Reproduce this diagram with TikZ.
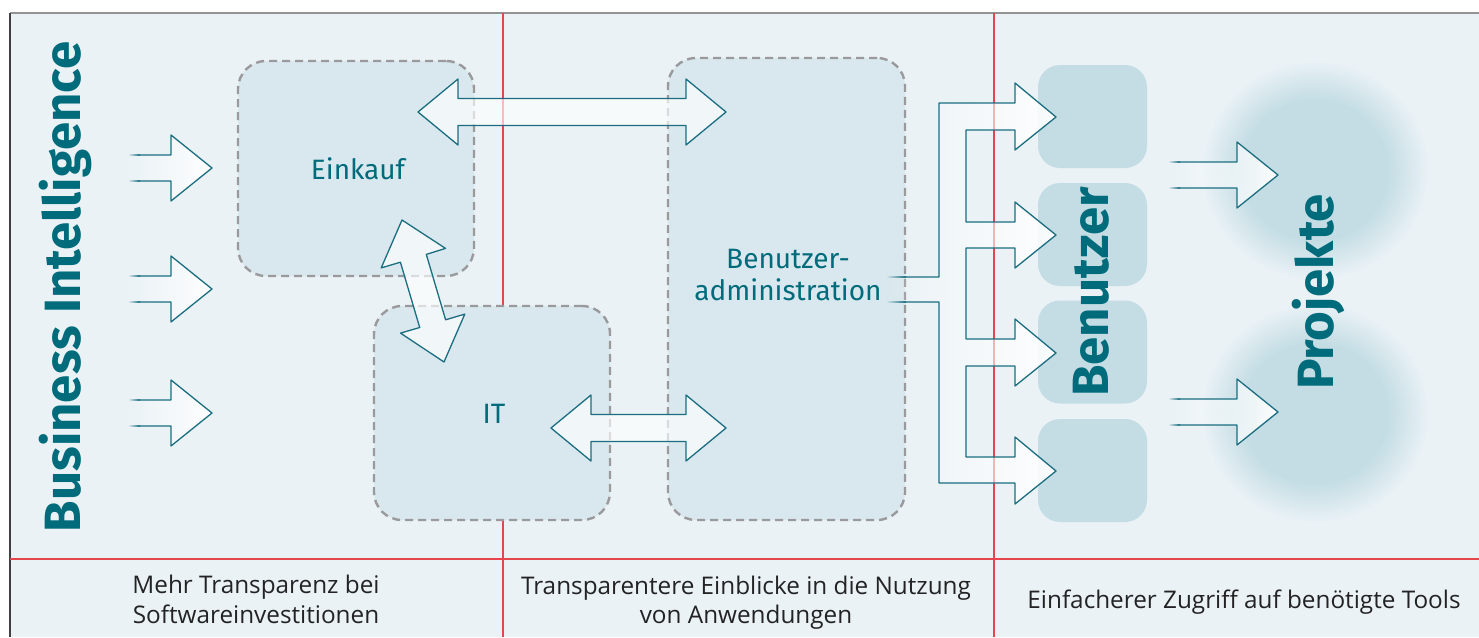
\documentclass[tikz,border=0pt]{standalone}
\usepackage{fontspec}
\setmainfont{Fira Sans}
\setsansfont{Fira Sans}
\newfontfamily\capfont{Open Sans}
\usetikzlibrary{fadings}
\definecolor{bgc}{HTML}{EAF2F6}
\definecolor{boxc}{HTML}{D9E8EE}
\definecolor{uboxc}{HTML}{C4DDE4}
\definecolor{glowc}{HTML}{C4DDE4}
\definecolor{tealc}{HTML}{006B7B}
\definecolor{arrc}{HTML}{1A6E80}
\definecolor{redc}{HTML}{E5454C}
\definecolor{capc}{HTML}{232325}
\definecolor{dashc}{HTML}{9A9A9C}
\pgfdeclareradialshading{glow}{\pgfpointorigin}{color(0bp)=(glowc); color(16bp)=(glowc); color(25bp)=(bgc); color(50bp)=(bgc)}
\tikzfading[name=fadein, left color=transparent!100, right color=transparent!5]
\tikzset{
  dbox/.style={draw=dashc, line width=2.4pt, dash pattern=on 8pt off 5pt, fill=boxc, rounded corners=28pt, inner sep=0pt, outer sep=0pt},
  ubox/.style={fill=uboxc, rounded corners=22pt, inner sep=0pt, outer sep=0pt},
  arrline/.style={draw=arrc, line width=1.3pt, line join=round},
  arrfill/.style={fill=white, path fading=fadein},
  dblfill/.style={fill=white, fill opacity=0.65},
  lbl/.style={text=tealc, font=\fontsize{28}{34}\selectfont, inner sep=0pt, anchor=base},
  ttl/.style={text=tealc, font=\fontsize{51}{54}\selectfont\bfseries, rotate=90, anchor=base, inner sep=0pt},
  capt/.style={text=capc, font=\capfont\fontsize{24.3}{29}\selectfont, anchor=base, inner sep=0pt},
  redl/.style={draw=redc, line width=1.2pt},
}
% single right arrow: #1 shaft start x, #2 tip x, #3 centre y, #4 colour under the faded start
\newcommand\rarrow[4]{%
  \fill[arrfill] ({#1},{#3-13}) -- ({#2-41},{#3-13}) -- ({#2-41},{#3-33}) -- ({#2},{#3}) -- ({#2-41},{#3+33}) -- ({#2-41},{#3+13}) -- ({#1},{#3+13}) -- cycle;
  \draw[arrline] ({#1+12},{#3-13}) -- ({#2-41},{#3-13}) -- ({#2-41},{#3-33}) -- ({#2},{#3}) -- ({#2-41},{#3+33}) -- ({#2-41},{#3+13}) -- ({#1+12},{#3+13});
  \shade[left color=#4, right color=arrc] ({#1},{#3-13.65}) rectangle ({#1+12},{#3-12.35});
  \shade[left color=#4, right color=arrc] ({#1},{#3+12.35}) rectangle ({#1+12},{#3+13.65});
}
% horizontal double arrow: #1 left tip x, #2 right tip x, #3 centre y
\newcommand\hdbl[3]{%
  \filldraw[arrline, dblfill] ({#1},{#3}) -- ({#1+40},{#3-33}) -- ({#1+40},{#3-13.5}) -- ({#2-40},{#3-13.5}) -- ({#2-40},{#3-33}) -- ({#2},{#3}) -- ({#2-40},{#3+33}) -- ({#2-40},{#3+13.5}) -- ({#1+40},{#3+13.5}) -- ({#1+40},{#3+33}) -- cycle;
}
\begin{document}
\begin{tikzpicture}[x=1pt,y=-1pt]
\useasboundingbox (0,0) rectangle (1479,637);
\fill[white] (0,0) rectangle (1479,637);
% panel
\fill[bgc] (10,13) rectangle (1479,637);
\draw[draw=gray!85!white, line width=1.5pt] (10,13) -- (1479,13);
\draw[draw=black!75, line width=1.5pt] (10,13) -- (10,637);
% red grid
\draw[redl] (10,559) -- (1479,559);
\draw[redl] (503,13) -- (503,637);
\draw[redl] (994,13) -- (994,637);
% glows
\shade[shading=glow] (1315,170) ellipse [x radius=114pt, y radius=110pt];
\shade[shading=glow] (1315,413) ellipse [x radius=114pt, y radius=110pt];
% dashed boxes
\node[dbox, minimum width=236pt, minimum height=215pt] (einkauf) at (356,168.5) {};
\node[dbox, minimum width=236pt, minimum height=214pt] (it) at (492,413) {};
\node[dbox, minimum width=237pt, minimum height=462pt] (admin) at (786.5,289) {};
% user boxes
\node[ubox, minimum width=109pt, minimum height=103pt] (u1) at (1092.5,116.5) {};
\node[ubox, minimum width=109pt, minimum height=103pt] (u2) at (1092.5,234.5) {};
\node[ubox, minimum width=109pt, minimum height=103pt] (u3) at (1092.5,352) {};
\node[ubox, minimum width=109pt, minimum height=103pt] (u4) at (1092.5,470.5) {};
% left input arrows
\rarrow{128}{212}{168}{bgc}
\rarrow{128}{212}{289}{bgc}
\rarrow{128}{212}{413}{bgc}
% double arrows
\hdbl{418}{726}{112}
\hdbl{551}{726}{428}
\filldraw[arrline, dblfill] (402,220) -- (381.2,267.9) -- (400.4,262.2) -- (419.7,327.5) -- (400.5,333.1) -- (444,362) -- (464.8,314.1) -- (445.6,319.8) -- (426.3,254.4) -- (445.5,248.4) -- cycle;
% branching arrow
\fill[arrfill] (886,277) -- (939,277) -- (939,103) -- (1015,103) -- (1015,83) -- (1056,117) -- (1015,150) -- (1015,130) -- (966,130) -- (966,222) -- (1015,222) -- (1015,202) -- (1056,235) -- (1015,268) -- (1015,248) -- (966,248) -- (966,339) -- (1015,339) -- (1015,319) -- (1056,353) -- (1015,386) -- (1015,366) -- (966,366) -- (966,457) -- (1015,457) -- (1015,437) -- (1056,471) -- (1015,504) -- (1015,483) -- (939,483) -- (939,302) -- (886,302) -- cycle;
\draw[arrline] (906,277) -- (939,277) -- (939,103) -- (1015,103) -- (1015,83) -- (1056,117) -- (1015,150) -- (1015,130) -- (966,130) -- (966,222) -- (1015,222) -- (1015,202) -- (1056,235) -- (1015,268) -- (1015,248) -- (966,248) -- (966,339) -- (1015,339) -- (1015,319) -- (1056,353) -- (1015,386) -- (1015,366) -- (966,366) -- (966,457) -- (1015,457) -- (1015,437) -- (1056,471) -- (1015,504) -- (1015,483) -- (939,483) -- (939,302) -- (906,302);
\shade[left color=boxc, right color=arrc] (886,276.35) rectangle (906,277.65);
\shade[left color=boxc, right color=arrc] (886,301.35) rectangle (906,302.65);
% arrows to projects
\rarrow{1168}{1278}{175}{bgc}
\rarrow{1168}{1278}{412}{bgc}
% texts
\node[lbl] (teinkauf) at (358,179) {Einkauf};
\node[lbl] (tit) at (494,423) {IT};
\node[lbl] (tadmin1) at (788,268) {Benutzer-};
\node[lbl] (tadmin2) at (788,300) {administration};
\node[ttl] (tbi) at (80,287) {Business Intelligence};
\node[ttl] (tuser) at (1108,292) {Benutzer};
\node[ttl] (tproj) at (1333,292) {Projekte};
\node[capt] (c1a) at (256,593) {Mehr Transparenz bei};
\node[capt] (c1b) at (256,623) {Softwareinvestitionen};
\node[capt] (c2a) at (746,594) {Transparentere Einblicke in die Nutzung};
\node[capt] (c2b) at (746,623) {von Anwendungen};
\node[capt] (c3) at (1244,608) {Einfacherer Zugriff auf benötigte Tools};
\end{tikzpicture}
\end{document}
